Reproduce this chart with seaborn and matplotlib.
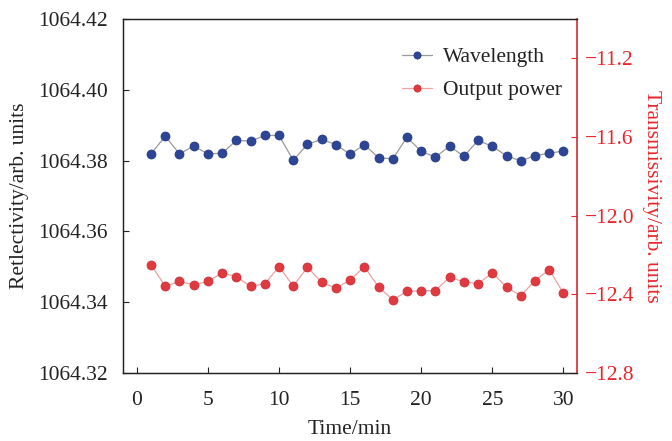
import matplotlib
matplotlib.use("Agg")
import matplotlib.pyplot as plt
import seaborn as sns
import pandas as pd
import numpy as np

time_min = list(range(1, 31))
wavelength = [1064.3819, 1064.3869, 1064.3819, 1064.3841, 1064.3819, 1064.3821,
              1064.3857, 1064.3855, 1064.3871, 1064.3871, 1064.3801, 1064.3846,
              1064.3860, 1064.3845, 1064.3818, 1064.3845, 1064.3808, 1064.3805,
              1064.3866, 1064.3826, 1064.3810, 1064.3841, 1064.3812, 1064.3857,
              1064.3840, 1064.3814, 1064.3799, 1064.3814, 1064.3821, 1064.3827]
output_power = [-12.249, -12.359, -12.334, -12.352, -12.334, -12.291,
                -12.310, -12.359, -12.346, -12.259, -12.358, -12.262,
                -12.339, -12.368, -12.327, -12.259, -12.363, -12.427,
                -12.385, -12.381, -12.381, -12.312, -12.337, -12.346,
                -12.291, -12.363, -12.407, -12.330, -12.274, -12.393]
left_ticks = [1064.32, 1064.34, 1064.36, 1064.38, 1064.40, 1064.42]
right_ticks = [-12.8, -12.4, -12.0, -11.6, -11.2]
x_ticks = [0, 5, 10, 15, 20, 25, 30]

sns.set_style("ticks")
plt.rcParams['font.family'] = ['Liberation Serif', 'DejaVu Serif']
plt.rcParams['axes.unicode_minus'] = True

df = pd.DataFrame({"t": time_min, "wl": wavelength, "pw": output_power})

fig = plt.figure(figsize=(6.72, 4.41), dpi=100)
ax = fig.add_axes([0.1835, 0.154, 0.8585 - 0.1835, 0.957 - 0.154])
ax2 = ax.twinx()

blue = "#2c4596"
red = "#e03a40"
sns.lineplot(data=df, x="t", y="wl", ax=ax, color="#9a9a9a", linewidth=0.9,
             marker="o", markersize=6.5, markerfacecolor=blue,
             markeredgecolor="#1f3580", markeredgewidth=0.5, label="Wavelength", legend=False)
sns.lineplot(data=df, x="t", y="pw", ax=ax2, color="#f0a0a0", linewidth=0.9,
             marker="o", markersize=6.5, markerfacecolor=red,
             markeredgecolor="#c82a30", markeredgewidth=0.5, label="Output power", legend=False)

ax.set_xlim(-0.95, 30.95)
ax.set_ylim(1064.32, 1064.42)
ax2.set_ylim(-12.8, -11.0)
ax.set_xticks(x_ticks)
ax.set_yticks(left_ticks)
ax.set_yticklabels([f"{v:.2f}" for v in left_ticks])
ax2.set_yticks(right_ticks)
ax2.set_yticklabels([f"\u2212{abs(v):.1f}" for v in right_ticks])

fs = 15.5
ax.tick_params(axis='y', direction='in', labelsize=fs, length=4, width=0.8,
               colors='#222222', pad=11)
ax.tick_params(axis='x', direction='in', labelsize=fs, length=4, width=0.8,
               colors='#222222', pad=13)
ax2.tick_params(axis='y', direction='in', labelsize=fs, length=4, width=0.8,
                colors='#e8262b', pad=6)
ax.set_xlabel("Time/min", fontsize=fs, color='#222222', labelpad=7)
ax.set_ylabel("Retlectivity/arb. units", fontsize=fs, color='#222222', labelpad=7)
ax2.set_ylabel("Transmissivity/arb. units", fontsize=fs, color='#e8262b',
               rotation=270, labelpad=19)

for sp in ['left', 'top', 'bottom']:
    ax.spines[sp].set_color('#222222')
    ax.spines[sp].set_linewidth(0.9)
    ax2.spines[sp].set_color('#222222')
    ax2.spines[sp].set_linewidth(0.9)
ax.spines['right'].set_visible(False)
ax2.spines['right'].set_color('#d42a2f')
ax2.spines['right'].set_linewidth(1.2)

h1, l1 = ax.get_legend_handles_labels()
h2, l2 = ax2.get_legend_handles_labels()
leg = ax2.legend(h1 + h2, l1 + l2, loc='upper right', bbox_to_anchor=(1.01, 0.975),
                 frameon=False, fontsize=fs, handlelength=1.4, handletextpad=0.5,
                 labelspacing=0.6, markerscale=0.8)
for t in leg.get_texts():
    t.set_color('#222222')

fig.savefig("out.png", dpi=100)
